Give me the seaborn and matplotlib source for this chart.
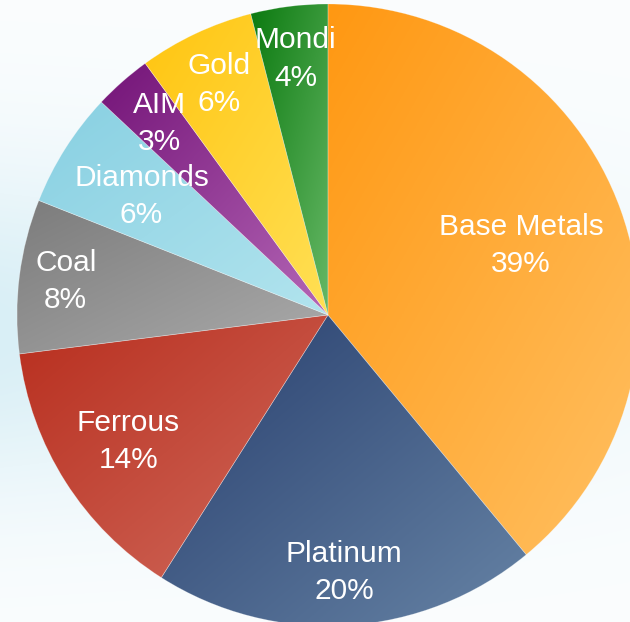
import numpy as np
import matplotlib
matplotlib.use("Agg")
import matplotlib.pyplot as plt
from matplotlib.colors import LinearSegmentedColormap, to_rgb
import seaborn as sns

# Share of segment contribution
segments = ["Base Metals", "Platinum", "Ferrous", "Coal", "Diamonds", "AIM", "Gold", "Mondi"]
shares = [39, 20, 14, 8, 6, 3, 6, 4]

# Two tones per slice: darker at the upper left, lighter at the lower right
dark_tones = ["#ff9812", "#283f6e", "#b82e1e", "#7c7c7c", "#88d0e2", "#741478", "#ffc510", "#0c7a10"]
light_tones = ["#ffc062", "#6683a5", "#d06a5c", "#ababab", "#b2e4ee", "#b466b6", "#ffe055", "#66b866"]

# Radial position of each label as a fraction of the radius
label_radius = [0.66, 0.83, 0.76, 0.85, 0.71, 0.82, 0.82, 0.83]

sns.set_theme(style="white")
plt.rcParams["font.family"] = ["Liberation Sans", "DejaVu Sans"]

W, H = 630, 622
fig = plt.figure(figsize=(W / 100, H / 100), dpi=100)
ax = fig.add_axes([0, 0, 1, 1])

# Soft blue wash behind the pie
yy, xx = np.mgrid[0:H, 0:W]
f = np.exp(-((yy - 330) / 165.0) ** 2) * (1 - 0.7 * xx / W)
white = np.array(to_rgb("#fbfdfe"))
blue = np.array(to_rgb("#d9eff6"))
bg = white[None, None, :] * (1 - f[..., None]) + blue[None, None, :] * f[..., None]
ax.imshow(bg, extent=(0, W, 0, H), origin="upper", zorder=0, aspect="auto")

cx, cy, R = 328, 307, 311
palette = sns.color_palette(dark_tones)
wedges, _ = ax.pie(shares, colors=palette, startangle=90, counterclock=False,
                   center=(cx, cy), radius=R, frame=True,
                   wedgeprops=dict(linewidth=0.5, edgecolor=(1, 1, 1, 0.3)))

# Diagonal gradient fill clipped to each wedge
g = np.linspace(0, 1, 200)
grad = (g[None, :] + g[:, None]) / 2.0
for w, d, l in zip(wedges, dark_tones, light_tones):
    cmap = LinearSegmentedColormap.from_list("s", [d, l])
    ext = w.get_path().get_extents()
    im = ax.imshow(grad, cmap=cmap, vmin=0, vmax=1, origin="upper",
                   extent=(ext.x0, ext.x1, ext.y0, ext.y1), zorder=2, aspect="auto",
                   interpolation="bilinear")
    im.set_clip_path(w)
    w.set_zorder(3)
    w.set_facecolor("none")

# Labels at the middle angle of each slice
total = sum(shares)
start = 90.0
for name, v, rf in zip(segments, shares, label_radius):
    span = 360.0 * v / total
    mid = np.deg2rad(start - span / 2)
    start -= span
    x = cx + rf * R * np.cos(mid)
    y = cy + rf * R * np.sin(mid)
    ax.text(x, y, f"{name}\n{round(100 * v / total)}%", ha="center", va="center",
            color="white", fontsize=21.5, linespacing=1.42, zorder=5)

ax.set_xlim(0, W)
ax.set_ylim(0, H)
ax.set_aspect("equal")
ax.set_axis_off()
fig.savefig("out.png", dpi=100)
